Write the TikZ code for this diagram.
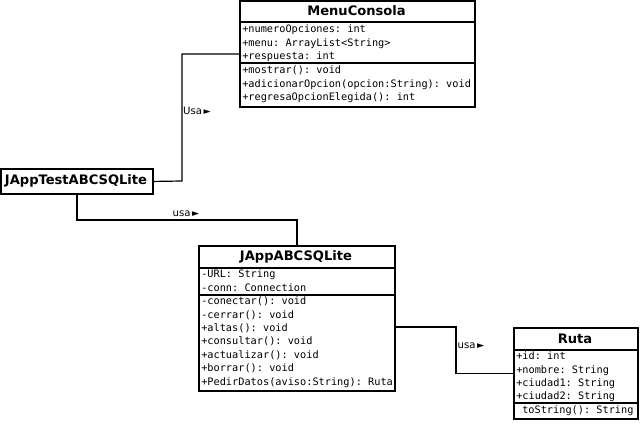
\documentclass[tikz,border=0pt]{standalone}
\usepackage{fontspec}
\setmainfont{DejaVu Sans}
\setmonofont{DejaVu Sans Mono}
\usetikzlibrary{calc}
\tikzset{
  classbox/.style={draw, line width=1.4pt, rectangle, anchor=north west, inner sep=0pt},
  classname/.style={font=\bfseries\fontsize{9.8}{11}\selectfont, inner sep=0pt},
  members/.style={anchor=north west, inner sep=0.75pt, align=left, font=\ttfamily\fontsize{7.7}{10.1}\selectfont},
  sepline/.style={line width=1pt},
  link/.style={line width=0.9pt},
  usalabel/.style={font=\fontsize{7.6}{9}\selectfont, inner sep=0.75pt}
}
\begin{document}
\begin{tikzpicture}[x=0.75pt,y=0.75pt,yscale=-1,xscale=1]
\useasboundingbox (0,0) rectangle (640,422);
%Class MenuConsola
\node[classbox, minimum width=235*0.75pt, minimum height=106*0.75pt] (menu) at (239,0) {};
\draw[sepline] (239,22) -- (474,22) (239,63) -- (474,63);
\node[classname] (menut) at (356.5,11) {MenuConsola};
\node[members] (menua) at (241,23.5) {+numeroOpciones: int\\+menu: ArrayList<String>\\+respuesta: int};
\node[members] (menum) at (241,64.5) {+mostrar(): void\\+adicionarOpcion(opcion:String): void\\+regresaOpcionElegida(): int};
%Class JAppTestABCSQLite
\node[classbox, minimum width=152*0.75pt, minimum height=25*0.75pt] (test) at (0,168) {};
\node[classname] (testt) at (76,180.5) {JAppTestABCSQLite};
%Class JAppABCSQLite
\node[classbox, minimum width=196*0.75pt, minimum height=145*0.75pt] (japp) at (198,245) {};
\draw[sepline] (198,268) -- (394,268) (198,295) -- (394,295);
\node[classname] (jappt) at (296,256.5) {JAppABCSQLite};
\node[members] (jappa) at (200,268.5) {-URL: String\\-conn: Connection};
\node[members] (jappm) at (200,295.5) {-conectar(): void\\-cerrar(): void\\+altas(): void\\+consultar(): void\\+actualizar(): void\\+borrar(): void\\+PedirDatos(aviso:String): Ruta};
%Class Ruta
\node[classbox, minimum width=124*0.75pt, minimum height=91*0.75pt] (ruta) at (513,327) {};
\draw[sepline] (513,350) -- (637,350) (513,403) -- (637,403);
\node[classname] (rutat) at (575,338.5) {Ruta};
\node[members] (rutaa) at (515,350.5) {+id: int\\+nombre: String\\+ciudad1: String\\+ciudad2: String};
\node[members] (rutam) at (521,404) {toString(): String};
%Connectors
\coordinate (c1) at (182,181);
\coordinate (c2) at (japp.north |- 0,220);
\coordinate (c3a) at (394,327);
\coordinate (c3b) at (456,327);
\draw[link] (test.east) -- (c1) |- (menu.west);
\draw[link] (test.south) |- (c2) -- (japp.north);
\draw[link] (c3a) -- (c3b) |- (ruta.west);
\node[usalabel] (l1) at (197,111) {Usa\,{\scriptsize ►}};
\node[usalabel] (l2) at (186,214) {usa\,{\scriptsize ►}};
\node[usalabel] (l3) at (471,346) {usa\,{\scriptsize ►}};
\end{tikzpicture}
\end{document}
